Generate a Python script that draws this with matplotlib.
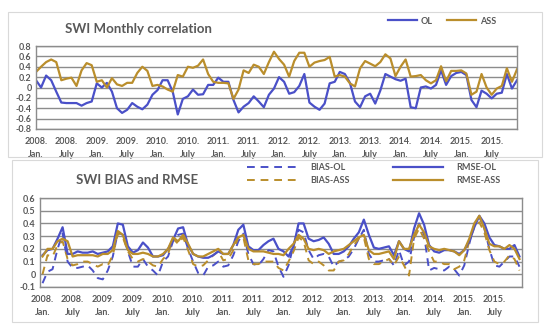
import matplotlib
matplotlib.use("Agg")
import matplotlib.pyplot as plt
from matplotlib.patches import Rectangle
from matplotlib.lines import Line2D

plt.rcParams['font.family'] = ['Lato', 'DejaVu Sans']

years = list(range(2008, 2016))
tick_labels = []
for y in years:
    tick_labels.append(f"{y}.\nJan.")
    tick_labels.append(f"{y}.\nJuly")

corr_ol = [0.14, 0.0, 0.23, 0.14, -0.08, -0.29, -0.30, -0.30, -0.30, -0.35, -0.30, -0.27,
           0.08, 0.0, 0.09, -0.08, -0.40, -0.49, -0.43, -0.30, -0.37, -0.42, -0.33, -0.14,
           -0.05, 0.14, 0.14, -0.08, -0.52, -0.22, -0.17, -0.04, -0.14, -0.13, 0.05, 0.05,
           0.19, 0.11, 0.11, -0.24, -0.48, -0.37, -0.30, -0.17, -0.27, -0.38, -0.14, -0.02,
           0.20, 0.11, -0.12, -0.09, 0.03, 0.26, -0.29, -0.37, -0.43, -0.31, 0.08, 0.11,
           0.30, 0.26, 0.09, -0.27, -0.38, -0.17, -0.12, -0.31, -0.06, 0.26, 0.21, 0.16,
           0.13, 0.17, -0.38, -0.40, 0.0, 0.02, -0.02, 0.05, 0.33, 0.05, 0.22, 0.28,
           0.30, 0.24, -0.24, -0.38, -0.06, -0.12, -0.21, -0.12, -0.10, 0.26, -0.02, 0.14]
corr_ass = [0.30, 0.40, 0.49, 0.54, 0.49, 0.14, 0.17, 0.19, 0.03, 0.33, 0.47, 0.43,
            0.11, 0.14, 0.0, 0.18, 0.06, 0.03, 0.09, 0.09, 0.28, 0.40, 0.32, 0.03,
            0.05, 0.02, -0.04, -0.08, 0.24, 0.21, 0.40, 0.38, 0.42, 0.54, 0.26, 0.11,
            0.09, 0.09, 0.08, -0.22, -0.04, 0.33, 0.28, 0.44, 0.40, 0.26, 0.49, 0.69,
            0.55, 0.44, 0.21, 0.51, 0.67, 0.67, 0.40, 0.48, 0.51, 0.53, 0.59, 0.21,
            0.24, 0.21, 0.08, 0.02, 0.37, 0.51, 0.46, 0.41, 0.49, 0.64, 0.56, 0.22,
            0.40, 0.54, 0.21, 0.22, 0.24, 0.14, 0.08, 0.14, 0.41, 0.12, 0.32, 0.32,
            0.33, 0.27, -0.14, -0.08, 0.26, 0.0, -0.14, -0.02, 0.03, 0.37, 0.11, 0.35]

rmse_ol = [0.15, 0.19, 0.20, 0.28, 0.37, 0.16, 0.16, 0.18, 0.17, 0.17, 0.18, 0.16,
           0.17, 0.18, 0.22, 0.40, 0.39, 0.22, 0.17, 0.19, 0.25, 0.21, 0.14, 0.14,
           0.15, 0.20, 0.27, 0.36, 0.37, 0.23, 0.16, 0.14, 0.13, 0.13, 0.15, 0.18,
           0.16, 0.16, 0.23, 0.35, 0.39, 0.22, 0.19, 0.19, 0.23, 0.26, 0.28, 0.20,
           0.18, 0.14, 0.22, 0.40, 0.40, 0.28, 0.26, 0.27, 0.29, 0.24, 0.16, 0.16,
           0.18, 0.22, 0.28, 0.33, 0.43, 0.31, 0.21, 0.20, 0.21, 0.22, 0.15, 0.26,
           0.20, 0.18, 0.36, 0.48, 0.39, 0.23, 0.18, 0.17, 0.19, 0.19, 0.18, 0.16,
           0.19, 0.26, 0.37, 0.46, 0.40, 0.29, 0.23, 0.22, 0.20, 0.20, 0.23, 0.14]
rmse_ass = [0.14, 0.20, 0.20, 0.26, 0.28, 0.26, 0.14, 0.15, 0.15, 0.15, 0.15, 0.14,
            0.16, 0.16, 0.19, 0.34, 0.31, 0.19, 0.16, 0.16, 0.17, 0.16, 0.14, 0.14,
            0.16, 0.20, 0.29, 0.26, 0.31, 0.24, 0.16, 0.14, 0.14, 0.16, 0.18, 0.20,
            0.16, 0.16, 0.23, 0.29, 0.31, 0.20, 0.18, 0.18, 0.18, 0.17, 0.16, 0.16,
            0.15, 0.20, 0.24, 0.31, 0.28, 0.20, 0.19, 0.20, 0.19, 0.16, 0.18, 0.19,
            0.20, 0.23, 0.26, 0.29, 0.31, 0.19, 0.16, 0.16, 0.17, 0.18, 0.12, 0.26,
            0.20, 0.20, 0.31, 0.39, 0.33, 0.22, 0.20, 0.19, 0.20, 0.19, 0.18, 0.15,
            0.19, 0.28, 0.40, 0.46, 0.36, 0.24, 0.22, 0.22, 0.20, 0.23, 0.20, 0.12]
bias_ol = [-0.07, 0.02, 0.04, 0.20, 0.32, 0.10, 0.05, 0.05, 0.06, 0.07, 0.03, -0.03,
           -0.04, 0.03, 0.14, 0.33, 0.31, 0.18, 0.06, 0.06, 0.12, 0.06, 0.03, -0.01,
           0.10, 0.14, 0.26, 0.31, 0.32, 0.20, 0.10, 0.01, -0.01, 0.06, 0.07, 0.10,
           0.06, 0.07, 0.15, 0.26, 0.32, 0.16, 0.08, 0.07, 0.12, 0.19, 0.18, 0.06,
           -0.02, 0.07, 0.23, 0.35, 0.33, 0.19, 0.12, 0.15, 0.16, 0.14, 0.06, 0.10,
           0.11, 0.14, 0.20, 0.28, 0.35, 0.16, 0.10, 0.10, 0.11, 0.12, 0.07, 0.19,
           0.07, 0.10, 0.29, 0.40, 0.31, 0.03, 0.05, 0.04, 0.03, 0.06, 0.04, -0.01,
           0.07, 0.24, 0.39, 0.45, 0.36, 0.20, 0.07, 0.06, 0.10, 0.14, 0.14, 0.06]
bias_ass = [0.0, 0.15, 0.14, 0.23, 0.26, 0.12, 0.07, 0.08, 0.10, 0.10, 0.08, 0.06,
            0.08, 0.07, 0.15, 0.32, 0.29, 0.18, 0.12, 0.10, 0.12, 0.10, 0.07, 0.06,
            0.12, 0.16, 0.28, 0.24, 0.29, 0.19, 0.08, 0.06, 0.07, 0.11, 0.15, 0.18,
            0.11, 0.12, 0.19, 0.29, 0.29, 0.11, 0.08, 0.08, 0.10, 0.10, 0.10, 0.05,
            0.03, 0.10, 0.18, 0.29, 0.26, 0.11, 0.08, 0.10, 0.07, 0.03, 0.03, 0.10,
            0.11, 0.16, 0.23, 0.28, 0.29, 0.12, 0.08, 0.08, 0.10, 0.12, 0.07, 0.14,
            0.07, -0.01, 0.28, 0.36, 0.28, 0.18, 0.10, 0.10, 0.08, 0.08, 0.04, 0.06,
            0.11, 0.26, 0.37, 0.41, 0.33, 0.19, 0.10, 0.08, 0.10, 0.15, 0.12, 0.03]

BLUE = '#4A50C8'
GOLD = '#BA8E2C'
TXT = '#595959'
GRID = '#8C8C8C'

fig = plt.figure(figsize=(5.5, 3.29), dpi=100)
W, H = 550, 329

def fx(x): return x / W
def fy(y): return 1 - y / H

# chart boxes
fig.patches.append(Rectangle((fx(8), fy(157)), fx(542) - fx(8), fy(12) - fy(157),
                             transform=fig.transFigure, fill=False, ec='#D9D9D9', lw=0.8))
fig.patches.append(Rectangle((fx(12), fy(322)), fx(538) - fx(12), fy(160) - fy(322),
                             transform=fig.transFigure, fill=False, ec='#D9D9D9', lw=0.8))

def style_ax(ax):
    for s in ax.spines.values():
        s.set_color(GRID)
        s.set_linewidth(1.0)
    ax.tick_params(length=0, colors=TXT, labelsize=6.5, pad=3)
    for lab in ax.get_xticklabels() + ax.get_yticklabels():
        lab.set_fontweight('bold')
        lab.set_color(TXT)
    ax.grid(axis='y', color=GRID, lw=1.0)
    ax.set_axisbelow(True)

# Top panel
n = len(corr_ol)
x = list(range(n))
ax1 = fig.add_axes([fx(36), fy(129), fx(517) - fx(36), fy(46) - fy(129)])
ax1.plot(x, corr_ol, color=BLUE, lw=1.6, label='OL')
ax1.plot(x, corr_ass, color=GOLD, lw=1.6, label='ASS')
ax1.set_xlim(0, n - 1)
ax1.set_ylim(-0.8, 0.8)
yt1 = [-0.8, -0.6, -0.4, -0.2, 0, 0.2, 0.4, 0.6, 0.8]
ax1.set_yticks(yt1)
ax1.set_yticklabels([('0' if v == 0 else f"{v:.1f}") for v in yt1])
ax1.set_xticks(list(range(0, n, 6)))
ax1.set_xticklabels(tick_labels, linespacing=1.5)
style_ax(ax1)
ax1.tick_params(axis='x', pad=6)

fig.text(fx(138), fy(29), 'SWI Monthly correlation', ha='center', va='center',
         fontsize=9.5, fontweight='bold', color=TXT)
leg1 = fig.legend(handles=[Line2D([], [], color=BLUE, lw=1.6), Line2D([], [], color=GOLD, lw=1.6)],
                  labels=['OL', 'ASS'], loc='center', bbox_to_anchor=(fx(442), fy(21)), ncol=2,
                  frameon=False, handlelength=3.2, columnspacing=1.6,
                  handletextpad=0.4, prop={'weight': 'bold', 'size': 6.5})

# Bottom panel
ax2 = fig.add_axes([fx(40), fy(287), fx(522) - fx(40), fy(198) - fy(287)])
ax2.plot(x, bias_ol, color=BLUE, lw=1.4, ls=(0, (4, 3)), label='BIAS-OL')
ax2.plot(x, bias_ass, color=GOLD, lw=1.4, ls=(0, (4, 3)), label='BIAS-ASS')
ax2.plot(x, rmse_ol, color=BLUE, lw=1.6, label='RMSE-OL')
ax2.plot(x, rmse_ass, color=GOLD, lw=1.6, label='RMSE-ASS')
ax2.set_xlim(-0.5, n - 0.5)
ax2.set_ylim(-0.1, 0.6)
yt2 = [-0.1, 0, 0.1, 0.2, 0.3, 0.4, 0.5, 0.6]
ax2.set_yticks(yt2)
ax2.set_yticklabels([('0' if v == 0 else f"{v:.1f}") for v in yt2])
ax2.set_xticks(list(range(0, n, 6)))
ax2.set_xticklabels(tick_labels, linespacing=1.5)
style_ax(ax2)
ax2.tick_params(axis='x', pad=6)

fig.text(fx(137), fy(180), 'SWI BIAS and RMSE', ha='center', va='center',
         fontsize=9.5, fontweight='bold', color=TXT)
h = ax2.get_lines()
leg2 = fig.legend(handles=[h[0], h[1], h[2], h[3]],
                  labels=['BIAS-OL', 'BIAS-ASS', 'RMSE-OL', 'RMSE-ASS'],
                  loc='center', bbox_to_anchor=(fx(374), fy(174)), ncol=2,
                  frameon=False, handlelength=5.5, columnspacing=4.8,
                  handletextpad=1.5, labelspacing=0.45, prop={'weight': 'bold', 'size': 6.5})
for t in leg1.get_texts() + leg2.get_texts():
    t.set_color(TXT)

fig.savefig('out.png', dpi=100, facecolor='white')
